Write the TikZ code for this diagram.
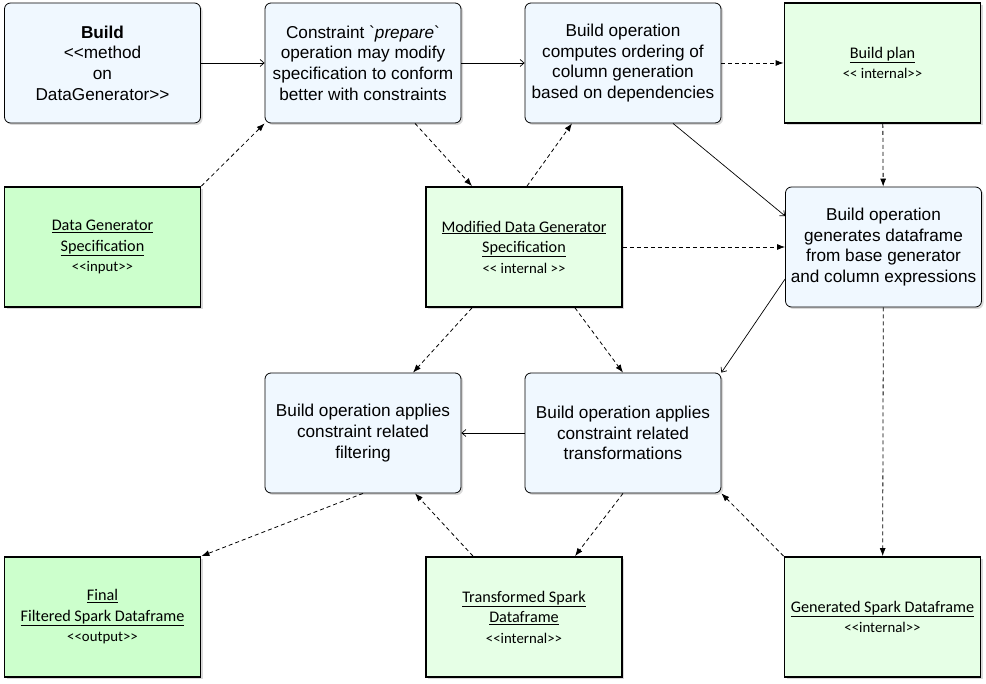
\documentclass[tikz,border=0pt]{standalone}
\usepackage{fontspec}
\newfontfamily\opfont{Liberation Sans}
\newfontfamily\datafont{Carlito}
\usetikzlibrary{arrows.meta,shadows}
\definecolor{opblue}{HTML}{F0F8FF}
\definecolor{ingreen}{HTML}{CCFFCC}
\definecolor{midgreen}{HTML}{E6FFE6}
\newcommand\dlt{<\kern0pt<}
\newcommand\dgt{>\kern0pt>}
\newcommand\stereo[1]{{\fontsize{14.8}{20.5}\selectfont #1}}

\begin{document}
\begin{tikzpicture}[x=1pt,y=-1pt,
		box/.style={draw, align=center, minimum width=196pt, minimum height=120pt, inner sep=2pt,
			drop shadow={opacity=0.3, shadow xshift=2pt, shadow yshift=-2pt}},
		opbox/.style={box, rounded corners=6pt, fill=opblue, line width=0.8pt,
			font=\opfont\fontsize{17.2}{20.6}\selectfont},
		databox/.style={box, line width=1.8pt, fill=midgreen,
			font=\datafont\fontsize{16.2}{20.5}\selectfont},
		endbox/.style={databox, fill=ingreen},
		flow/.style={-{Straight Barb[length=4pt,width=7pt]}, line width=0.7pt},
		uses/.style={-{Latex[length=8pt,width=6pt]}, line width=0.8pt, dash pattern=on 4pt off 3pt}]
		\useasboundingbox (0,0) rectangle (986,684);

		\node[opbox] (build) at (102.5,63) {\textbf{Build}\\\dlt method\\on\\DataGenerator\dgt};
		\node[opbox] (prepare) at (363,63) {Constraint \textasciigrave\textit{prepare}\textasciigrave\\operation may modify\\specification to conform\\better with constraints};
		\node[opbox] (order) at (623,63) {Build operation\\computes ordering of\\column generation\\based on dependencies};
		\node[databox] (plan) at (882.5,63) {\underline{Build plan}\\\stereo{\dlt{} internal\dgt}};

		\node[endbox] (spec) at (102.5,247) {\underline{Data Generator}\\\underline{Specification}\\\stereo{\dlt input\dgt}};
		\node[databox] (modspec) at (524,247) {\underline{Modified Data Generator}\\\underline{Specification}\\\stereo{\dlt{} internal \dgt}};
		\node[opbox] (generate) at (883.5,247) {Build operation\\generates dataframe\\from base generator\\and column expressions};

		\node[opbox] (filter) at (363,433) {Build operation applies\\constraint related\\filtering};
		\node[opbox] (transform) at (623,433) {Build operation applies\\constraint related\\transformations};

		\node[endbox] (final) at (102.5,617) {\underline{Final}\\\underline{Filtered Spark Dataframe}\\\stereo{\dlt output\dgt}};
		\node[databox] (transformed) at (524,617) {\underline{Transformed Spark}\\\underline{Dataframe}\\\stereo{\dlt internal\dgt}};
		\node[databox] (generated) at (882.5,617) {\underline{Generated Spark Dataframe}\\\stereo{\dlt internal\dgt}};

		\draw[flow] (build) -- (prepare);
		\draw[flow] (prepare) -- (order);
		\draw[uses] (order) -- (plan);
		\draw[uses] (spec.north east) -- (prepare.south west);
		\draw[uses] ([xshift=52pt]prepare.south) -- ([xshift=-52pt]modspec.north);
		\draw[uses] ([xshift=3pt]modspec.north) -- ([xshift=-51pt]order.south);
		\draw[flow] ([xshift=50pt]order.south) -- ([yshift=31pt]generate.west);
		\draw[uses] (plan) -- (generate);
		\draw[uses] (modspec) -- (generate);
		\draw[flow] ([yshift=-32pt]generate.west) -- (transform.north east);
		\draw[uses] ([xshift=-52pt]modspec.south) -- ([xshift=50pt]filter.north);
		\draw[uses] ([xshift=51pt]modspec.south) -- (transform.north);
		\draw[flow] (transform) -- (filter);
		\draw[uses] (filter.south) -- (final.north east);
		\draw[uses] ([xshift=-51pt]transformed.north) -- ([xshift=52pt]filter.south);
		\draw[uses] (transform.south) -- ([xshift=51pt]transformed.north);
		\draw[uses] (generated.north west) -- (transform.south east);
		\draw[uses] (generate) -- (generated);
	\end{tikzpicture}
\end{document}
